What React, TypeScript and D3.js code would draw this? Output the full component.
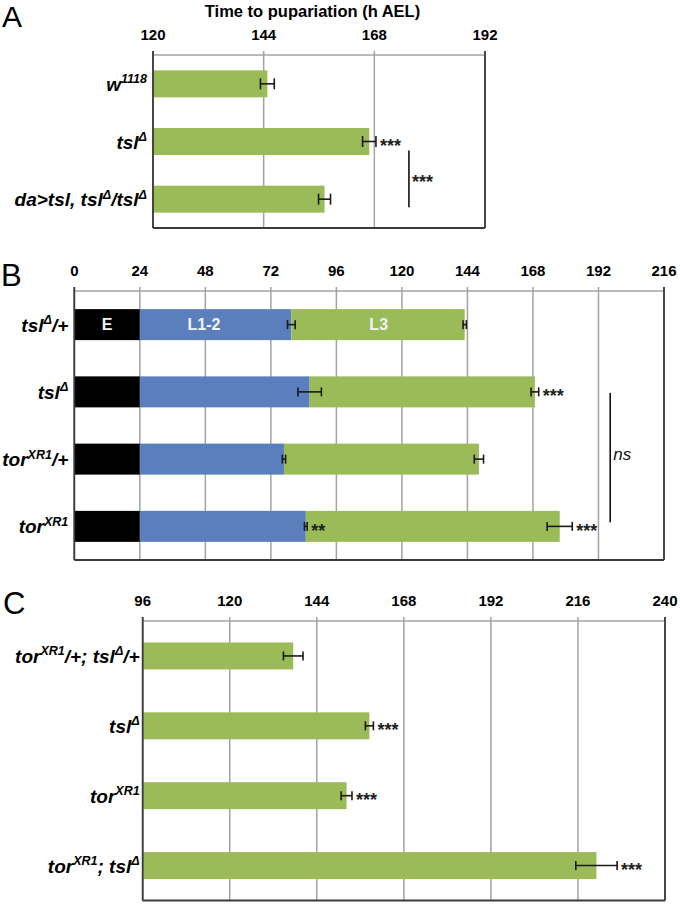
import React from 'react';
import * as d3 from 'd3';

const FONT = '"Liberation Sans", Arial, Helvetica, sans-serif';

type Seg = { t: string; sup?: boolean };

// ---------- Panel A ----------
const titleA = 'Time to pupariation (h AEL)';
const labelsA: Seg[][] = [
  [{ t: 'w' }, { t: '1118', sup: true }],
  [{ t: 'tsl' }, { t: 'Δ', sup: true }],
  [{ t: 'da>tsl, tsl' }, { t: 'Δ', sup: true }, { t: '/tsl' }, { t: 'Δ', sup: true }],
];
const pupA = [144.8, 166.9, 157.2];
const errA = [1.5, 1.45, 1.3];
const starsA = ['', '***', ''];
const ticksA = [120, 144, 168, 192];
const bracketA = { from: 1, to: 2, at: 175.5, text: '***' };

// ---------- Panel B ----------
const labelsB: Seg[][] = [
  [{ t: 'tsl' }, { t: 'Δ', sup: true }, { t: '/+' }],
  [{ t: 'tsl' }, { t: 'Δ', sup: true }],
  [{ t: 'tor' }, { t: 'XR1', sup: true }, { t: '/+' }],
  [{ t: 'tor' }, { t: 'XR1', sup: true }],
];
const stagesB = ['E', 'L1-2', 'L3'];
const stageLabelPosB = [12, 47.5, 111.5];
const eggEndB = [24, 24, 24, 24];
const l3StartB = [79.5, 86.2, 76.8, 84.8];
const errL3StartB = [1.4, 4.3, 0.6, 0.5];
const pupB = [143.0, 168.7, 148.2, 177.8];
const errPupB = [0.6, 1.4, 1.7, 4.6];
const starsL3B = ['', '', '', '**'];
const starsPupB = ['', '***', '', '***'];
const ticksB = [0, 24, 48, 72, 96, 120, 144, 168, 192, 216];
const bracketB = { from: 1, to: 3, at: 196.3, text: 'ns' };

// ---------- Panel C ----------
const labelsC: Seg[][] = [
  [{ t: 'tor' }, { t: 'XR1', sup: true }, { t: '/+; tsl' }, { t: 'Δ', sup: true }, { t: '/+' }],
  [{ t: 'tsl' }, { t: 'Δ', sup: true }],
  [{ t: 'tor' }, { t: 'XR1', sup: true }],
  [{ t: 'tor' }, { t: 'XR1', sup: true }, { t: '; tsl' }, { t: 'Δ', sup: true }],
];
const pupC = [137.5, 158.5, 152.2, 221.1];
const errC = [2.7, 1.1, 1.5, 5.7];
const starsC = ['', '***', '***', '***'];
const ticksC = [96, 120, 144, 168, 192, 216, 240];

const GREEN = '#9bbb59';
const BLUE = '#5b7fbd';
const stageColors = ['#000000', BLUE, GREEN];
const GRID = '#a3a3a3';
const DARK = '#3a3a3a';

function Label({ segs, x, y }: { segs: Seg[]; x: number; y: number }) {
  let raised = false;
  const nodes = segs.map((s, i) => {
    let dy: number | undefined;
    if (s.sup && !raised) { dy = -7.5; raised = true; }
    else if (!s.sup && raised) { dy = 7.5; raised = false; }
    return (
      <tspan key={i} dy={dy} fontSize={s.sup ? 12.5 : undefined}>{s.t}</tspan>
    );
  });
  return (
    <text x={x} y={y} textAnchor="end" fontFamily={FONT} fontWeight="bold" fontStyle="italic" fontSize={19} fill="#000">
      {nodes}
    </text>
  );
}

function Frame({ x, top, bottom, ticks }: { x: d3.ScaleLinear<number, number>; top: number; bottom: number; ticks: number[] }) {
  const [x0, x1] = x.range();
  return (
    <g>
      {ticks.map((t) => (
        <line key={'g' + t} x1={x(t)} x2={x(t)} y1={top - 4} y2={bottom} stroke={GRID} strokeWidth={1.5} />
      ))}
      <line x1={x0} x2={x1} y1={top} y2={top} stroke={GRID} strokeWidth={1.5} />
      {ticks.map((t) => (
        <text key={'t' + t} x={x(t)} y={top - 15} textAnchor="middle" fontFamily={FONT} fontWeight="bold" fontSize={15} fill="#000">
          {t}
        </text>
      ))}
    </g>
  );
}

function Border({ x, top, bottom }: { x: d3.ScaleLinear<number, number>; top: number; bottom: number }) {
  const [x0, x1] = x.range();
  return (
    <g stroke={DARK} strokeWidth={1.8}>
      <line x1={x0} x2={x0} y1={top - 4} y2={bottom} />
      <line x1={x1} x2={x1} y1={top - 4} y2={bottom} />
      <line x1={x0} x2={x1} y1={bottom} y2={bottom} />
    </g>
  );
}

function ErrBar({ x1, x2, y, cap }: { x1: number; x2: number; y: number; cap: number }) {
  return (
    <g stroke="#1a1a1a" strokeWidth={1.6}>
      <line x1={x1} x2={x2} y1={y} y2={y} />
      <line x1={x1} x2={x1} y1={y - cap / 2} y2={y + cap / 2} />
      <line x1={x2} x2={x2} y1={y - cap / 2} y2={y + cap / 2} />
    </g>
  );
}

function Stars({ x, y, text }: { x: number; y: number; text: string }) {
  if (!text) return null;
  return (
    <text x={x} y={y + 10.5} fontFamily={FONT} fontWeight="bold" fontSize={18} fill="#222">{text}</text>
  );
}

export default function App() {
  // Panel A scales
  const topA = 55, botA = 228;
  const xA = d3.scaleLinear().domain([120, 192]).range([153, 485]);
  const yA = d3.scaleBand<number>().domain(d3.range(labelsA.length)).range([topA, botA]).paddingInner(0.532).paddingOuter(0.266);
  const cA = (i: number) => (yA(i) as number) + yA.bandwidth() / 2;

  // Panel B scales
  const topB = 291, botB = 560;
  const xB = d3.scaleLinear().domain([0, 216]).range([74.3, 664]);
  const yB = d3.scaleBand<number>().domain(d3.range(labelsB.length)).range([topB, botB]).paddingInner(0.539).paddingOuter(0.2695);
  const cB = (i: number) => (yB(i) as number) + yB.bandwidth() / 2;

  // Panel C scales
  const topC = 621, botC = 900.5;
  const xC = d3.scaleLinear().domain([96, 240]).range([142.7, 665]);
  const yC = d3.scaleBand<number>().domain(d3.range(labelsC.length)).range([topC, botC]).paddingInner(0.614).paddingOuter(0.307);
  const cC = (i: number) => (yC(i) as number) + yC.bandwidth() / 2;

  const segsB = labelsB.map((_, i) => [
    [0, eggEndB[i]],
    [eggEndB[i], l3StartB[i]],
    [l3StartB[i], pupB[i]],
  ]);

  const brA1 = cA(bracketA.from) + 9, brA2 = cA(bracketA.to) + 8;
  const brB1 = cB(bracketB.from) + 1, brB2 = cB(bracketB.to) - 4;

  return (
    <svg width={680} height={905} style={{ position: 'absolute', left: 0, top: 0, background: '#fff' }}>
      <rect x={0} y={0} width={680} height={905} fill="#fff" />

      {/* Panel letters */}
      <text x={2} y={27} fontFamily={FONT} fontSize={30} fill="#000">A</text>
      <text x={1} y={286} fontFamily={FONT} fontSize={31} fill="#000">B</text>
      <text x={3} y={614} fontFamily={FONT} fontSize={31} fill="#000">C</text>

      {/* ---------- A ---------- */}
      <text x={312.5} y={17} textAnchor="middle" fontFamily={FONT} fontWeight="bold" fontSize={16.5} fill="#000">{titleA}</text>
      <Frame x={xA} top={topA} bottom={botA} ticks={ticksA} />
      {pupA.map((v, i) => (
        <rect key={i} x={xA(120)} y={yA(i)} width={xA(v) - xA(120)} height={yA.bandwidth()} fill={GREEN} />
      ))}
      {pupA.map((v, i) => (
        <ErrBar key={i} x1={xA(v - errA[i])} x2={xA(v + errA[i])} y={cA(i)} cap={11} />
      ))}
      {pupA.map((v, i) => (
        <Stars key={i} x={xA(v + errA[i]) + 4} y={cA(i)} text={starsA[i]} />
      ))}
      <line x1={xA(bracketA.at)} x2={xA(bracketA.at)} y1={brA1} y2={brA2} stroke="#111" strokeWidth={1.6} />
      <Stars x={xA(bracketA.at) + 3} y={(brA1 + brA2) / 2 - 1.5} text={bracketA.text} />
      <Border x={xA} top={topA} bottom={botA} />
      {labelsA.map((l, i) => (
        <Label key={i} segs={l} x={xA(120) - 6} y={cA(i) + 7} />
      ))}

      {/* ---------- B ---------- */}
      <Frame x={xB} top={topB} bottom={botB} ticks={ticksB} />
      {segsB.map((row, i) =>
        row.map(([a, b], k) => (
          <rect key={i + '-' + k} x={xB(a)} y={yB(i)} width={xB(b) - xB(a)} height={yB.bandwidth()} fill={stageColors[k]} />
        ))
      )}
      {stagesB.map((s, k) => (
        <text key={s} x={xB(stageLabelPosB[k])} y={cB(0) + 5.5} textAnchor="middle" fontFamily={FONT} fontWeight="bold" fontSize={16} fill="#f2f2f2">{s}</text>
      ))}
      {l3StartB.map((v, i) => (
        <ErrBar key={'l' + i} x1={xB(v - errL3StartB[i])} x2={xB(v + errL3StartB[i])} y={cB(i)} cap={9} />
      ))}
      {pupB.map((v, i) => (
        <ErrBar key={'p' + i} x1={xB(v - errPupB[i])} x2={xB(v + errPupB[i])} y={cB(i)} cap={9} />
      ))}
      {l3StartB.map((v, i) => (
        <Stars key={'sl' + i} x={xB(v + errL3StartB[i]) + 4} y={cB(i)} text={starsL3B[i]} />
      ))}
      {pupB.map((v, i) => (
        <Stars key={'sp' + i} x={xB(v + errPupB[i]) + 4} y={cB(i)} text={starsPupB[i]} />
      ))}
      <line x1={xB(bracketB.at)} x2={xB(bracketB.at)} y1={brB1} y2={brB2} stroke="#111" strokeWidth={1.6} />
      <text x={xB(bracketB.at) + 3} y={(brB1 + brB2) / 2 + 2} fontFamily={FONT} fontStyle="italic" fontSize={17} fill="#111">{bracketB.text}</text>
      <Border x={xB} top={topB} bottom={botB} />
      {labelsB.map((l, i) => (
        <Label key={i} segs={l} x={xB(0) - 6} y={cB(i) + 7} />
      ))}

      {/* ---------- C ---------- */}
      <Frame x={xC} top={topC} bottom={botC} ticks={ticksC} />
      {pupC.map((v, i) => (
        <rect key={i} x={xC(96)} y={yC(i)} width={xC(v) - xC(96)} height={yC.bandwidth()} fill={GREEN} />
      ))}
      {pupC.map((v, i) => (
        <ErrBar key={i} x1={xC(v - errC[i])} x2={xC(v + errC[i])} y={cC(i)} cap={9} />
      ))}
      {pupC.map((v, i) => (
        <Stars key={i} x={xC(v + errC[i]) + 4} y={cC(i)} text={starsC[i]} />
      ))}
      <Border x={xC} top={topC} bottom={botC} />
      {labelsC.map((l, i) => (
        <Label key={i} segs={l} x={xC(96) - 3} y={cC(i) + 7} />
      ))}
    </svg>
  );
}
